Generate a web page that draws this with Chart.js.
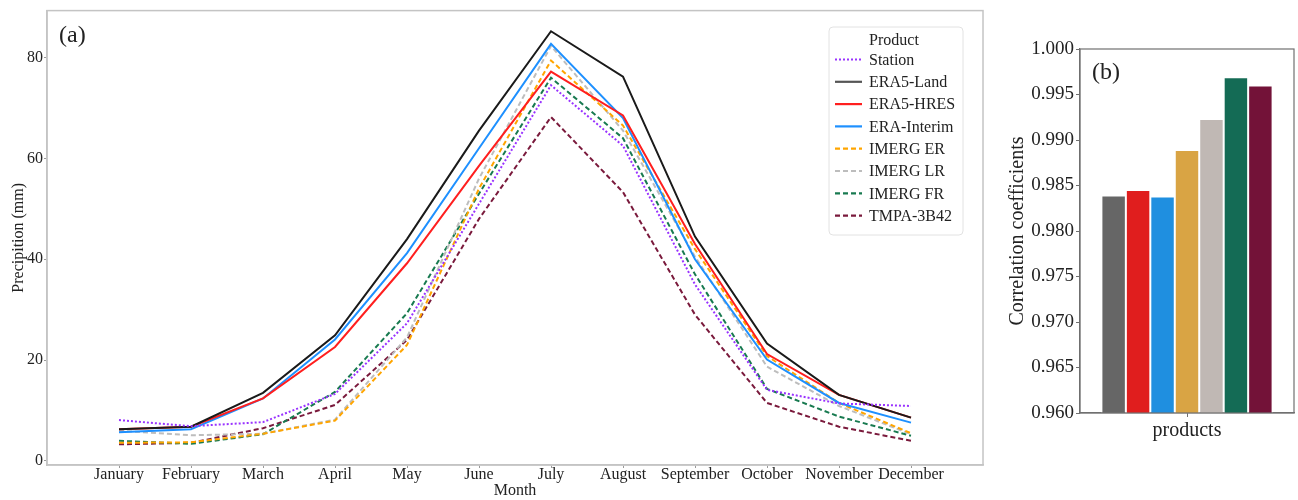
<!DOCTYPE html>
<html>
<head>
<meta charset="utf-8">
<script src="https://cdn.jsdelivr.net/npm/chart.js"></script>
<style>
  body { margin: 0; background: #fff; }
  #wrapA { position: absolute; left: 0; top: 0; width: 1000px; height: 500px; }
  #wrapB { position: absolute; left: 1000px; top: 0; width: 298px; height: 500px; }
</style>
</head>
<body>
<div id="wrapA"><canvas id="lineChart" width="1000" height="500"></canvas></div>
<div id="wrapB"><canvas id="barChart" width="298" height="500"></canvas></div>
<script>
const months = ["January", "February", "March", "April", "May", "June", "July", "August", "September", "October", "November", "December"];
const products = ["Station", "ERA5-Land", "ERA5-HRES", "ERA-Interim", "IMERG ER", "IMERG LR", "IMERG FR", "TMPA-3B42"];

// monthly precipitation (mm)
const station    = [8.1, 6.9, 7.7, 13.3, 27.3, 51.0, 74.5, 62.5, 35.0, 14.1, 11.4, 10.9];
const era5Land   = [6.3, 6.8, 13.5, 24.9, 44.0, 65.5, 85.2, 76.2, 44.5, 23.3, 13.1, 8.6];
const era5Hres   = [6.3, 6.8, 12.4, 22.6, 39.2, 58.5, 77.2, 68.5, 43.0, 21.2, 13.1, 8.6];
const eraInterim = [5.7, 6.3, 12.4, 24.1, 41.2, 62.0, 82.7, 68.0, 40.0, 20.1, 11.5, 7.6];
const imergER    = [3.6, 3.7, 5.4, 8.0, 23.0, 54.0, 79.4, 66.5, 42.0, 20.8, 11.5, 5.5];
const imergLR    = [6.0, 5.1, 5.4, 8.2, 24.5, 56.0, 82.3, 65.5, 40.5, 18.7, 10.9, 5.3];
const imergFR    = [4.0, 3.4, 5.3, 13.7, 29.3, 53.0, 76.0, 64.0, 37.0, 14.3, 8.8, 5.0];
const tmpa       = [3.3, 3.6, 6.5, 11.1, 24.0, 48.0, 68.2, 53.3, 29.0, 11.5, 6.8, 4.0];
const yTicksA = [0, 20, 40, 60, 80];

// correlation coefficients (panel b), same order as products without Station
const corr = [0.9839, 0.9845, 0.9838, 0.9889, 0.9923, 0.9969, 0.9960];
const yTicksB = [0.960, 0.965, 0.970, 0.975, 0.980, 0.985, 0.990, 0.995, 1.000];

const serif = "'Liberation Serif', 'DejaVu Serif', serif";
const ink = "#222";

const series = [station, era5Land, era5Hres, eraInterim, imergER, imergLR, imergFR, tmpa];
const lineColors = ["#9933ff", "#1a1a1a", "#ff1f1f", "#1e90ff", "#ffa500", "#bdbdbd", "#187a50", "#7a1a3c"];
const dashes = [[2, 2], [], [], [], [5, 3], [5, 3], [5, 3], [5, 3]];
const barColors = ["#666666", "#e01e1e", "#1f8fe0", "#d9a444", "#c0b8b4", "#146b55", "#731238"];

const frame = {
  id: "frame",
  afterDraw(chart, args, o) {
    const a = chart.chartArea, c = chart.ctx;
    c.save();
    c.strokeStyle = o.color; c.lineWidth = o.width;
    c.strokeRect(a.left, a.top, a.right - a.left, a.bottom - a.top);
    c.fillStyle = ink;
    c.font = "24px " + serif;
    c.textBaseline = "top";
    c.fillText(o.label, a.left + o.dx, a.top + o.dy);
    c.restore();
  }
};

const boxLegend = {
  id: "boxLegend",
  afterDraw(chart) {
    const c = chart.ctx;
    const x0 = 829, y0 = 27, w = 134, h = 208;
    c.save();
    c.fillStyle = "rgba(255,255,255,0.85)";
    c.strokeStyle = "#e2e2e2"; c.lineWidth = 1;
    c.beginPath(); c.roundRect(x0, y0, w, h, 4); c.fill(); c.stroke();
    c.fillStyle = ink;
    c.font = "16px " + serif;
    c.textBaseline = "middle";
    c.textAlign = "center";
    c.fillText("Product", 894, 41);
    c.textAlign = "left";
    chart.data.datasets.forEach((ds, i) => {
      const y = 59.5 + i * 22.3;
      c.strokeStyle = i === 1 ? "#555" : ds.borderColor;
      c.lineWidth = 2.2;
      c.setLineDash(ds.borderDash);
      c.beginPath(); c.moveTo(835, y); c.lineTo(862, y); c.stroke();
      c.setLineDash([]);
      c.fillText(ds.label, 869, y + 1);
    });
    c.restore();
  }
};

new Chart(document.getElementById("lineChart"), {
  type: "line",
  data: {
    datasets: series.map((s, i) => ({
      label: products[i],
      data: s.map((v, j) => ({ x: j, y: v })),
      borderColor: lineColors[i],
      borderDash: dashes[i],
      borderWidth: 2,
      pointRadius: 0,
      tension: 0,
      fill: false
    }))
  },
  options: {
    responsive: false, animation: false, devicePixelRatio: 1,
    layout: { padding: { left: 0, top: 10, right: 17, bottom: 0 } },
    plugins: {
      legend: { display: false }, tooltip: { enabled: false },
      frame: { color: "#c4c4c4", width: 1.5, label: "(a)", dx: 12, dy: 13 }
    },
    scales: {
      x: {
        type: "linear", min: -1, max: 12,
        afterBuildTicks: s => { s.ticks = months.map((m, i) => ({ value: i })); },
        afterFit: s => { s.height = 35; },
        ticks: { callback: v => months[v], color: ink, font: { family: serif, size: 16 }, maxRotation: 0, autoSkip: false, padding: -3 },
        grid: { drawOnChartArea: false, tickLength: 3, color: "#999" },
        border: { color: "#c4c4c4", width: 1.5 },
        title: { display: true, text: "Month", color: ink, font: { family: serif, size: 16 }, padding: 0 }
      },
      y: {
        min: -0.8, max: 89.3,
        afterBuildTicks: s => { s.ticks = yTicksA.map(v => ({ value: v })); },
        afterFit: s => { s.width = 47; },
        ticks: { color: ink, font: { family: serif, size: 16 }, padding: 1 },
        grid: { drawOnChartArea: false, tickLength: 3, color: "#999" },
        border: { color: "#c4c4c4", width: 1.5 },
        title: { display: true, text: "Precipition (mm)", color: ink, font: { family: serif, size: 16 }, padding: { top: 9, bottom: 0 } }
      }
    }
  },
  plugins: [frame, boxLegend]
});

new Chart(document.getElementById("barChart"), {
  type: "bar",
  data: {
    labels: ["products"],
    datasets: corr.map((v, i) => ({
      label: products[i + 1],
      data: [v],
      backgroundColor: barColors[i],
      borderColor: "#ffffff",
      borderWidth: 1,
      borderSkipped: "start",
      categoryPercentage: 0.8,
      barPercentage: 1
    }))
  },
  options: {
    responsive: false, animation: false, devicePixelRatio: 1,
    layout: { padding: { left: 0, top: 49, right: 4, bottom: 0 } },
    plugins: {
      legend: { display: false }, tooltip: { enabled: false },
      frame: { color: "#707070", width: 1.2, label: "(b)", dx: 12, dy: 12 }
    },
    scales: {
      x: {
        afterFit: s => { s.height = 87; },
        ticks: { color: ink, font: { family: serif, size: 20 }, padding: 2 },
        grid: { drawOnChartArea: false, offset: false, tickLength: 4, color: "#707070" },
        border: { color: "#707070", width: 1.2 }
      },
      y: {
        min: 0.96, max: 1.0,
        afterBuildTicks: s => { s.ticks = yTicksB.map(v => ({ value: v })); },
        afterFit: s => { s.width = 80; },
        ticks: { callback: v => v.toFixed(3), color: ink, font: { family: serif, size: 19 }, padding: 2 },
        grid: { drawOnChartArea: false, tickLength: 4, color: "#707070" },
        border: { color: "#707070", width: 1.2 },
        title: { display: true, text: "Correlation coefficients", color: ink, font: { family: serif, size: 20 }, padding: { top: 6, bottom: 0 } }
      }
    }
  },
  plugins: [frame]
});
</script>
</body>
</html>
